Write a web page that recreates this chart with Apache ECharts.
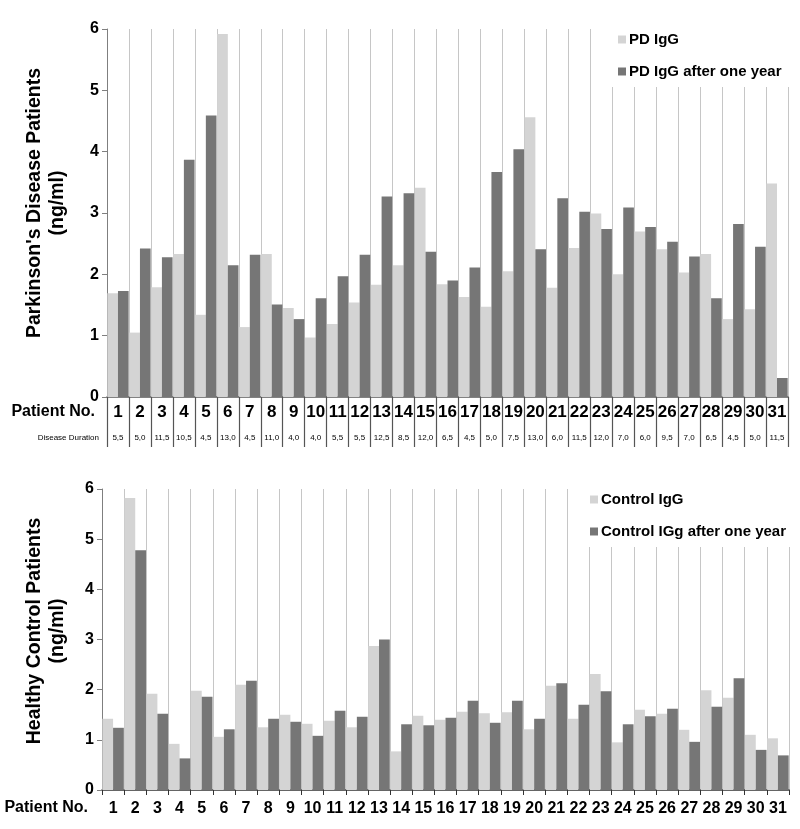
<!DOCTYPE html>
<html>
<head>
<meta charset="utf-8">
<script src="https://cdn.jsdelivr.net/npm/echarts@6/dist/echarts.min.js"></script>
<style>
html,body{margin:0;padding:0;background:#fff;}
#chart{width:800px;height:829px;}
</style>
</head>
<body>
<div id="chart"></div>
<script>
const patients = ['1','2','3','4','5','6','7','8','9','10','11','12','13','14','15','16','17','18','19','20','21','22','23','24','25','26','27','28','29','30','31'];
const diseaseDuration = ['5,5','5,0','11,5','10,5','4,5','13,0','4,5','11,0','4,0','4,0','5,5','5,5','12,5','8,5','12,0','6,5','4,5','5,0','7,5','13,0','6,0','11,5','12,0','7,0','6,0','9,5','7,0','6,5','4,5','5,0','11,5'];
const pdIgG = [1.69,1.05,1.79,2.33,1.34,5.92,1.14,2.33,1.45,0.97,1.19,1.54,1.83,2.15,3.41,1.84,1.63,1.47,2.05,4.56,1.78,2.43,2.99,2.00,2.70,2.41,2.03,2.33,1.27,1.43,3.48];
const pdIgGAfter = [1.73,2.42,2.28,3.87,4.59,2.15,2.32,1.51,1.27,1.61,1.97,2.32,3.27,3.32,2.37,1.90,2.11,3.67,4.04,2.41,3.24,3.02,2.74,3.09,2.77,2.53,2.29,1.61,2.82,2.45,0.31];
const controlIgG = [1.42,5.82,1.92,0.92,1.98,1.06,2.10,1.25,1.50,1.32,1.38,1.25,2.87,0.77,1.48,1.40,1.56,1.53,1.55,1.21,2.08,1.42,2.31,0.95,1.60,1.52,1.20,1.99,1.84,1.10,1.03];
const controlIgGAfter = [1.24,4.78,1.52,0.63,1.86,1.21,2.18,1.42,1.36,1.08,1.58,1.46,3.00,1.31,1.29,1.44,1.78,1.34,1.78,1.42,2.13,1.70,1.97,1.31,1.47,1.62,0.96,1.66,2.23,0.80,0.69];
const yTicks = [0,1,2,3,4,5,6];

const FONT = '"Liberation Sans", Arial, sans-serif';
const LIGHT = '#d4d4d4';
const DARK = '#767676';

const chart = echarts.init(document.getElementById('chart'), null, {renderer:'canvas'});

function yAxisCfg(gridIndex){
  return {
    type:'value', gridIndex:gridIndex, min:yTicks[0], max:yTicks[yTicks.length-1], interval:1,
    axisLine:{show:true, lineStyle:{color:'#7f7f7f', width:1}},
    axisTick:{show:true, length:5, lineStyle:{color:'#7f7f7f'}},
    axisLabel:{fontFamily:FONT, fontWeight:'bold', fontSize:16, color:'#000', margin:8},
    splitLine:{show:false}
  };
}

const option = {
  backgroundColor:'#fff',
  animation:false,
  textStyle:{fontFamily:FONT},
  grid:[
    {left:107, top:29, width:681, height:368},
    {left:102, top:489, width:687, height:301}
  ],
  legend:[
    {
      data:['PD IgG','PD IgG after one year'],
      orient:'vertical', left:606, top:27,
      itemWidth:8, itemHeight:8, itemGap:17,
      icon:'rect',
      backgroundColor:'#fff',
      padding:[5,12,8,12],
      textStyle:{fontFamily:FONT, fontWeight:'bold', fontSize:15, color:'#000', padding:[0,0,0,-2]}
    },
    {
      data:['Control IgG','Control IGg after one year'],
      orient:'vertical', left:578, top:488,
      itemWidth:8, itemHeight:8, itemGap:17,
      icon:'rect',
      backgroundColor:'#fff',
      padding:[4,12,8,12],
      textStyle:{fontFamily:FONT, fontWeight:'bold', fontSize:15, color:'#000', padding:[0,0,0,-2]}
    }
  ],
  xAxis:[
    {
      type:'category', gridIndex:0, data:patients,
      axisLine:{show:true, lineStyle:{color:'#595959', width:1.5}},
      axisTick:{show:true, length:50, lineStyle:{color:'#555', width:1.2}},
      splitLine:{show:true, lineStyle:{color:'#c6c6c6', width:1}},
      axisLabel:{
        interval:0, margin:4,
        formatter:function(v, i){ return '{n|' + v + '}\n{d|' + diseaseDuration[i] + '}'; },
        rich:{
          n:{fontFamily:FONT, fontWeight:'bold', fontSize:17, color:'#000', lineHeight:22},
          d:{fontFamily:FONT, fontSize:8, color:'#000', lineHeight:30}
        }
      }
    },
    {
      type:'category', gridIndex:1, data:patients,
      axisLine:{show:true, lineStyle:{color:'#333', width:1.5}},
      axisTick:{show:true, length:5, lineStyle:{color:'#333'}},
      splitLine:{show:true, lineStyle:{color:'#c6c6c6', width:1}},
      axisLabel:{interval:0, margin:11, fontFamily:FONT, fontWeight:'bold', fontSize:16, color:'#000'}
    }
  ],
  yAxis:[yAxisCfg(0), yAxisCfg(1)],
  series:[
    {name:'PD IgG', type:'bar', xAxisIndex:0, yAxisIndex:0, data:pdIgG, itemStyle:{color:LIGHT}, barGap:'0%', barCategoryGap:'3%'},
    {name:'PD IgG after one year', type:'bar', xAxisIndex:0, yAxisIndex:0, data:pdIgGAfter, itemStyle:{color:DARK}, barGap:'0%', barCategoryGap:'3%'},
    {name:'Control IgG', type:'bar', xAxisIndex:1, yAxisIndex:1, data:controlIgG, itemStyle:{color:LIGHT}, barGap:'0%', barCategoryGap:'3%'},
    {name:'Control IGg after one year', type:'bar', xAxisIndex:1, yAxisIndex:1, data:controlIgGAfter, itemStyle:{color:DARK}, barGap:'0%', barCategoryGap:'3%'}
  ],
  graphic:[
    {type:'text', x:46, y:203, rotation:Math.PI/2,
      style:{text:"Parkinson's Disease Patients\n(ng/ml)", fontFamily:FONT, fontWeight:'bold', fontSize:19.5, fill:'#000', align:'center', verticalAlign:'middle', lineHeight:23}},
    {type:'text', x:46, y:631, rotation:Math.PI/2,
      style:{text:"Healthy Control Patients\n(ng/ml)", fontFamily:FONT, fontWeight:'bold', fontSize:19.5, fill:'#000', align:'center', verticalAlign:'middle', lineHeight:23}},
    {type:'text', x:95, y:412,
      style:{text:'Patient No.', fontFamily:FONT, fontWeight:'bold', fontSize:16, fill:'#000', align:'right', verticalAlign:'middle'}},
    {type:'text', x:99, y:438,
      style:{text:'Disease Duration', fontFamily:FONT, fontSize:8, fill:'#000', align:'right', verticalAlign:'middle'}},
    {type:'text', x:88, y:808,
      style:{text:'Patient No.', fontFamily:FONT, fontWeight:'bold', fontSize:16, fill:'#000', align:'right', verticalAlign:'middle'}}
  ]
};
chart.setOption(option);
</script>
</body>
</html>
